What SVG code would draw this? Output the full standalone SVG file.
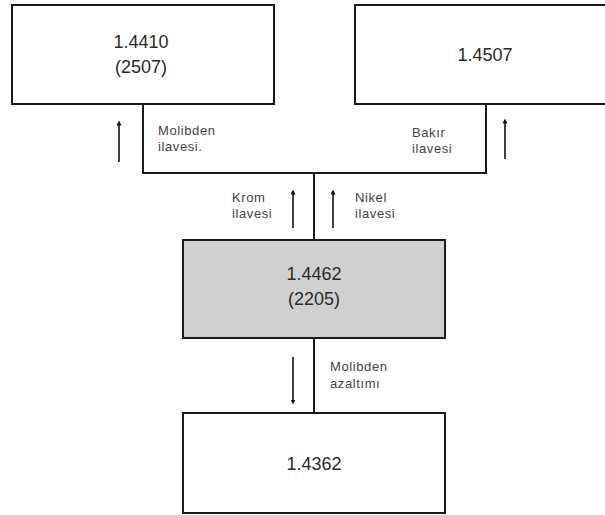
<svg xmlns="http://www.w3.org/2000/svg" width="605" height="515" viewBox="0 0 605 515">
<defs>
<marker id="ah" viewBox="0 0 10 10" refX="5" refY="5" markerWidth="5" markerHeight="5" orient="auto-start-reverse" markerUnits="userSpaceOnUse">
<path d="M0,0 L10,5 L0,10 z" fill="#111"/>
</marker>
<style>
.box{fill:#fff;stroke:#1a1a1a;stroke-width:2}
.gray{fill:#d0d0d0;stroke:#1a1a1a;stroke-width:2}
.main{font-family:"Liberation Sans",Arial,sans-serif;font-size:18px;fill:#2a2a2a;text-anchor:middle}
.lbl{font-family:"Liberation Sans",Arial,sans-serif;font-size:13px;letter-spacing:0.6px;fill:#444}
.wire{fill:none;stroke:#1a1a1a;stroke-width:2}
.arr{stroke:#111;stroke-width:1.6;marker-end:url(#ah)}
</style>
</defs>
<rect width="605" height="515" fill="#fff"/>
<g id="connectors">
<path class="wire" d="M143,104 V173 H486 V104"/>
<path class="wire" d="M314,173 V240"/>
<path class="wire" d="M314,338 V413"/>
<line class="arr" x1="119" y1="162" x2="119" y2="123"/>
<line class="arr" x1="505" y1="159" x2="505" y2="121"/>
<line class="arr" x1="293" y1="228" x2="293" y2="192"/>
<line class="arr" x1="333" y1="228" x2="333" y2="192"/>
<line class="arr" x1="293" y1="357" x2="293" y2="402"/>
<text class="lbl" x="158" y="135">Molibden</text>
<text class="lbl" x="158" y="151">ilavesi.</text>
<text class="lbl" x="412" y="137">Bakır</text>
<text class="lbl" x="412" y="153">ilavesi</text>
<text class="lbl" x="232" y="202">Krom</text>
<text class="lbl" x="232" y="218">ilavesi</text>
<text class="lbl" x="355" y="202">Nikel</text>
<text class="lbl" x="355" y="218">ilavesi</text>
<text class="lbl" x="330" y="371">Molibden</text>
<text class="lbl" x="330" y="388">azaltımı</text>
</g>
<g id="n1">
<rect class="box" x="12" y="5" width="262" height="99"/>
<text class="main" x="141" y="48">1.4410</text>
<text class="main" x="141" y="73">(2507)</text>
</g>
<g id="n2">
<rect class="box" x="355" y="5" width="265" height="99"/>
<text class="main" x="485" y="61">1.4507</text>
</g>
<g id="n3">
<rect class="gray" x="183" y="240" width="262" height="98"/>
<text class="main" x="314" y="280">1.4462</text>
<text class="main" x="314" y="305">(2205)</text>
</g>
<g id="n4">
<rect class="box" x="183" y="413" width="262" height="100"/>
<text class="main" x="314" y="470">1.4362</text>
</g>
</svg>
